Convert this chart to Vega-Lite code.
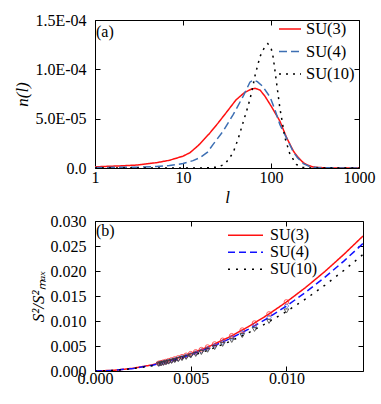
{
  "$schema": "https://vega.github.io/schema/vega-lite/v6.json",
  "background": "white",
  "padding": {"left": 13, "top": 11, "right": 5, "bottom": 5},
  "spacing": 6,
  "datasets": {
    "top": [
      {"l": 1, "n": 1.2e-6, "s": "SU(3)"}, {"l": 2, "n": 2.2e-6, "s": "SU(3)"}, {"l": 3, "n": 3.0e-6, "s": "SU(3)"},
      {"l": 5, "n": 5.4e-6, "s": "SU(3)"}, {"l": 7, "n": 7.8e-6, "s": "SU(3)"}, {"l": 10, "n": 1.2e-5, "s": "SU(3)"},
      {"l": 12, "n": 1.55e-5, "s": "SU(3)"}, {"l": 15, "n": 2.3e-5, "s": "SU(3)"}, {"l": 20, "n": 3.5e-5, "s": "SU(3)"},
      {"l": 25, "n": 4.55e-5, "s": "SU(3)"}, {"l": 30, "n": 5.45e-5, "s": "SU(3)"}, {"l": 40, "n": 6.9e-5, "s": "SU(3)"},
      {"l": 50, "n": 7.65e-5, "s": "SU(3)"}, {"l": 60, "n": 8.0e-5, "s": "SU(3)"}, {"l": 66, "n": 8.08e-5, "s": "SU(3)"},
      {"l": 75, "n": 7.9e-5, "s": "SU(3)"}, {"l": 85, "n": 7.3e-5, "s": "SU(3)"}, {"l": 100, "n": 6.3e-5, "s": "SU(3)"},
      {"l": 126, "n": 4.76e-5, "s": "SU(3)"}, {"l": 150, "n": 3.1e-5, "s": "SU(3)"}, {"l": 180, "n": 1.7e-5, "s": "SU(3)"},
      {"l": 200, "n": 1.15e-5, "s": "SU(3)"}, {"l": 233, "n": 5.4e-6, "s": "SU(3)"}, {"l": 260, "n": 3.0e-6, "s": "SU(3)"},
      {"l": 300, "n": 1.0e-6, "s": "SU(3)"}, {"l": 400, "n": 2e-7, "s": "SU(3)"}, {"l": 600, "n": 0, "s": "SU(3)"},
      {"l": 1000, "n": 0, "s": "SU(3)"},
      {"l": 1, "n": 5e-7, "s": "SU(4)"}, {"l": 3, "n": 8e-7, "s": "SU(4)"}, {"l": 5, "n": 1.5e-6, "s": "SU(4)"},
      {"l": 7, "n": 2.5e-6, "s": "SU(4)"}, {"l": 10, "n": 4.5e-6, "s": "SU(4)"}, {"l": 13, "n": 7.5e-6, "s": "SU(4)"},
      {"l": 15.6, "n": 1.05e-5, "s": "SU(4)"}, {"l": 19, "n": 1.6e-5, "s": "SU(4)"}, {"l": 22, "n": 2.4e-5, "s": "SU(4)"},
      {"l": 28.7, "n": 3.75e-5, "s": "SU(4)"}, {"l": 37.3, "n": 5.44e-5, "s": "SU(4)"}, {"l": 48.5, "n": 7.3e-5, "s": "SU(4)"},
      {"l": 57.6, "n": 8.7e-5, "s": "SU(4)"}, {"l": 63, "n": 8.9e-5, "s": "SU(4)"}, {"l": 70, "n": 8.75e-5, "s": "SU(4)"},
      {"l": 80, "n": 8.3e-5, "s": "SU(4)"}, {"l": 97.5, "n": 7.2e-5, "s": "SU(4)"}, {"l": 110, "n": 6.0e-5, "s": "SU(4)"},
      {"l": 126, "n": 4.4e-5, "s": "SU(4)"}, {"l": 151, "n": 3.0e-5, "s": "SU(4)"}, {"l": 180, "n": 1.6e-5, "s": "SU(4)"},
      {"l": 200, "n": 1.05e-5, "s": "SU(4)"}, {"l": 233, "n": 4.5e-6, "s": "SU(4)"}, {"l": 280, "n": 1.2e-6, "s": "SU(4)"},
      {"l": 350, "n": 2e-7, "s": "SU(4)"}, {"l": 1000, "n": 0, "s": "SU(4)"},
      {"l": 1, "n": 0, "s": "SU(10)"}, {"l": 15, "n": 0, "s": "SU(10)"}, {"l": 20, "n": 3e-7, "s": "SU(10)"},
      {"l": 25, "n": 1.0e-6, "s": "SU(10)"}, {"l": 30, "n": 4e-6, "s": "SU(10)"}, {"l": 34, "n": 1.05e-5, "s": "SU(10)"},
      {"l": 37.3, "n": 1.6e-5, "s": "SU(10)"}, {"l": 42.5, "n": 3.0e-5, "s": "SU(10)"}, {"l": 48.5, "n": 4.7e-5, "s": "SU(10)"},
      {"l": 55, "n": 6.3e-5, "s": "SU(10)"}, {"l": 60, "n": 7.6e-5, "s": "SU(10)"}, {"l": 66, "n": 9.4e-5, "s": "SU(10)"},
      {"l": 75, "n": 1.13e-4, "s": "SU(10)"}, {"l": 85, "n": 1.23e-4, "s": "SU(10)"}, {"l": 92, "n": 1.26e-4, "s": "SU(10)"},
      {"l": 100, "n": 1.22e-4, "s": "SU(10)"}, {"l": 106, "n": 1.12e-4, "s": "SU(10)"}, {"l": 115, "n": 8.8e-5, "s": "SU(10)"},
      {"l": 126, "n": 6.1e-5, "s": "SU(10)"}, {"l": 144, "n": 3.07e-5, "s": "SU(10)"}, {"l": 164, "n": 1.4e-5, "s": "SU(10)"},
      {"l": 195, "n": 3.5e-6, "s": "SU(10)"}, {"l": 230, "n": 5e-7, "s": "SU(10)"}, {"l": 300, "n": 0, "s": "SU(10)"},
      {"l": 1000, "n": 0, "s": "SU(10)"}
    ],
    "curves": [
      {"x": 0, "y": 0, "s": "SU(3)"}, {"x": 0.001, "y": 0.000138, "s": "SU(3)"}, {"x": 0.002, "y": 0.00055, "s": "SU(3)"},
      {"x": 0.003, "y": 0.00124, "s": "SU(3)"}, {"x": 0.004, "y": 0.00221, "s": "SU(3)"}, {"x": 0.005, "y": 0.00345, "s": "SU(3)"},
      {"x": 0.006, "y": 0.00497, "s": "SU(3)"}, {"x": 0.007, "y": 0.00676, "s": "SU(3)"}, {"x": 0.008, "y": 0.00883, "s": "SU(3)"},
      {"x": 0.009, "y": 0.01118, "s": "SU(3)"}, {"x": 0.010, "y": 0.0138, "s": "SU(3)"}, {"x": 0.011, "y": 0.0167, "s": "SU(3)"},
      {"x": 0.012, "y": 0.01987, "s": "SU(3)"}, {"x": 0.013, "y": 0.02332, "s": "SU(3)"}, {"x": 0.014, "y": 0.0270, "s": "SU(3)"},
      {"x": 0, "y": 0, "s": "SU(4)"}, {"x": 0.001, "y": 0.00013, "s": "SU(4)"}, {"x": 0.002, "y": 0.00052, "s": "SU(4)"},
      {"x": 0.003, "y": 0.00117, "s": "SU(4)"}, {"x": 0.004, "y": 0.00208, "s": "SU(4)"}, {"x": 0.005, "y": 0.00325, "s": "SU(4)"},
      {"x": 0.006, "y": 0.00468, "s": "SU(4)"}, {"x": 0.007, "y": 0.00637, "s": "SU(4)"}, {"x": 0.008, "y": 0.00832, "s": "SU(4)"},
      {"x": 0.009, "y": 0.01053, "s": "SU(4)"}, {"x": 0.010, "y": 0.0130, "s": "SU(4)"}, {"x": 0.011, "y": 0.01573, "s": "SU(4)"},
      {"x": 0.012, "y": 0.01872, "s": "SU(4)"}, {"x": 0.013, "y": 0.02197, "s": "SU(4)"}, {"x": 0.014, "y": 0.0255, "s": "SU(4)"},
      {"x": 0, "y": 0, "s": "SU(10)"}, {"x": 0.001, "y": 0.00012, "s": "SU(10)"}, {"x": 0.002, "y": 0.00048, "s": "SU(10)"},
      {"x": 0.003, "y": 0.00107, "s": "SU(10)"}, {"x": 0.004, "y": 0.0019, "s": "SU(10)"}, {"x": 0.005, "y": 0.00298, "s": "SU(10)"},
      {"x": 0.006, "y": 0.00428, "s": "SU(10)"}, {"x": 0.007, "y": 0.00583, "s": "SU(10)"}, {"x": 0.008, "y": 0.00762, "s": "SU(10)"},
      {"x": 0.009, "y": 0.00964, "s": "SU(10)"}, {"x": 0.010, "y": 0.0119, "s": "SU(10)"}, {"x": 0.011, "y": 0.0144, "s": "SU(10)"},
      {"x": 0.012, "y": 0.01714, "s": "SU(10)"}, {"x": 0.013, "y": 0.02011, "s": "SU(10)"}, {"x": 0.014, "y": 0.0233, "s": "SU(10)"}
    ],
    "pts": [
      {"x": 0.01, "y": 0.0138, "m": "SU(3)"}, {"x": 0.009091, "y": 0.0114, "m": "SU(3)"}, {"x": 0.008333, "y": 0.00958, "m": "SU(3)"},
      {"x": 0.007692, "y": 0.00817, "m": "SU(3)"}, {"x": 0.007143, "y": 0.00704, "m": "SU(3)"}, {"x": 0.006667, "y": 0.00613, "m": "SU(3)"},
      {"x": 0.00625, "y": 0.00539, "m": "SU(3)"}, {"x": 0.005882, "y": 0.00478, "m": "SU(3)"}, {"x": 0.005556, "y": 0.00426, "m": "SU(3)"},
      {"x": 0.005263, "y": 0.00382, "m": "SU(3)"}, {"x": 0.005, "y": 0.00345, "m": "SU(3)"}, {"x": 0.004762, "y": 0.00313, "m": "SU(3)"},
      {"x": 0.004545, "y": 0.00285, "m": "SU(3)"}, {"x": 0.004348, "y": 0.00261, "m": "SU(3)"}, {"x": 0.004167, "y": 0.0024, "m": "SU(3)"},
      {"x": 0.004, "y": 0.00221, "m": "SU(3)"}, {"x": 0.003846, "y": 0.00204, "m": "SU(3)"}, {"x": 0.003704, "y": 0.00189, "m": "SU(3)"},
      {"x": 0.003571, "y": 0.00176, "m": "SU(3)"}, {"x": 0.003448, "y": 0.00164, "m": "SU(3)"}, {"x": 0.003333, "y": 0.00153, "m": "SU(3)"},
      {"x": 0.01, "y": 0.0130, "m": "SU(4)"}, {"x": 0.009091, "y": 0.01074, "m": "SU(4)"}, {"x": 0.008333, "y": 0.00903, "m": "SU(4)"},
      {"x": 0.007692, "y": 0.00769, "m": "SU(4)"}, {"x": 0.007143, "y": 0.00663, "m": "SU(4)"}, {"x": 0.006667, "y": 0.00578, "m": "SU(4)"},
      {"x": 0.00625, "y": 0.00508, "m": "SU(4)"}, {"x": 0.005882, "y": 0.0045, "m": "SU(4)"}, {"x": 0.005556, "y": 0.00401, "m": "SU(4)"},
      {"x": 0.005263, "y": 0.0036, "m": "SU(4)"}, {"x": 0.005, "y": 0.00325, "m": "SU(4)"}, {"x": 0.004762, "y": 0.00295, "m": "SU(4)"},
      {"x": 0.004545, "y": 0.00269, "m": "SU(4)"}, {"x": 0.004348, "y": 0.00246, "m": "SU(4)"}, {"x": 0.004167, "y": 0.00226, "m": "SU(4)"},
      {"x": 0.004, "y": 0.00208, "m": "SU(4)"}, {"x": 0.003846, "y": 0.00192, "m": "SU(4)"}, {"x": 0.003704, "y": 0.00178, "m": "SU(4)"},
      {"x": 0.003571, "y": 0.00166, "m": "SU(4)"}, {"x": 0.003448, "y": 0.00155, "m": "SU(4)"}, {"x": 0.003333, "y": 0.00144, "m": "SU(4)"},
      {"x": 0.01, "y": 0.0120, "m": "SU(10)"}, {"x": 0.009091, "y": 0.00992, "m": "SU(10)"}, {"x": 0.008333, "y": 0.00833, "m": "SU(10)"},
      {"x": 0.007692, "y": 0.0071, "m": "SU(10)"}, {"x": 0.007143, "y": 0.00612, "m": "SU(10)"}, {"x": 0.006667, "y": 0.00533, "m": "SU(10)"},
      {"x": 0.00625, "y": 0.00469, "m": "SU(10)"}, {"x": 0.005882, "y": 0.00415, "m": "SU(10)"}, {"x": 0.005556, "y": 0.0037, "m": "SU(10)"},
      {"x": 0.005263, "y": 0.00332, "m": "SU(10)"}, {"x": 0.005, "y": 0.003, "m": "SU(10)"}, {"x": 0.004762, "y": 0.00272, "m": "SU(10)"},
      {"x": 0.004545, "y": 0.00248, "m": "SU(10)"}, {"x": 0.004348, "y": 0.00227, "m": "SU(10)"}, {"x": 0.004167, "y": 0.00208, "m": "SU(10)"},
      {"x": 0.004, "y": 0.00192, "m": "SU(10)"}, {"x": 0.003846, "y": 0.00178, "m": "SU(10)"}, {"x": 0.003704, "y": 0.00165, "m": "SU(10)"},
      {"x": 0.003571, "y": 0.00153, "m": "SU(10)"}, {"x": 0.003448, "y": 0.00143, "m": "SU(10)"}, {"x": 0.003333, "y": 0.00133, "m": "SU(10)"}
    ],
    "labA": [{"l": 1, "n": 1.5e-4, "t": "(a)"}],
    "labB": [{"x": 0, "y": 0.03, "t": "(b)"}]
  },
  "vconcat": [
    {
      "width": 264,
      "height": 148,
      "resolve": {"axis": {"x": "independent", "y": "independent"}},
      "layer": [
        {
          "data": {"name": "top"},
          "mark": {"type": "line", "strokeWidth": 1.5, "clip": true},
          "encoding": {
            "x": {"field": "l", "type": "quantitative", "scale": {"type": "log", "domain": [1, 1000], "nice": false},
                  "axis": {"values": [1, 10, 100, 1000], "format": "d", "labelFlush": false, "title": "l", "titleFontStyle": "italic", "labelPadding": 6, "titlePadding": 4}},
            "y": {"field": "n", "type": "quantitative", "scale": {"domain": [0, 0.00015], "nice": false},
                  "axis": {"values": [0, 0.00005, 0.0001, 0.00015], "labelPadding": 14, "titlePadding": 3, "title": "n(l)", "titleFontStyle": "italic",
                           "labelExpr": "datum.value == 0 ? '0.0' : datum.value < 0.00006 ? '5.0E-05' : datum.value < 0.00011 ? '1.0E-04' : '1.5E-04'"}},
            "color": {"field": "s", "type": "nominal",
                      "scale": {"domain": ["SU(3)", "SU(4)", "SU(10)"], "range": ["#ff1010", "#3d6fb3", "#000000"]},
                      "legend": {"orient": "none", "legendX": 183, "legendY": -3, "title": null, "symbolType": "stroke", "symbolSize": 484, "symbolStrokeWidth": 1.5, "labelFont": "Liberation Serif", "labelFontSize": 16.5, "labelOffset": 4, "rowPadding": 1.5, "labelColor": "black"}},
            "strokeDash": {"field": "s", "type": "nominal",
                           "scale": {"domain": ["SU(3)", "SU(4)", "SU(10)"], "range": [[1, 0], [8, 4], [2, 5]]},
                           "legend": {"orient": "none", "legendX": 183, "legendY": -3, "title": null, "symbolType": "stroke", "symbolSize": 484, "symbolStrokeWidth": 1.5, "labelFont": "Liberation Serif", "labelFontSize": 16.5, "labelOffset": 4, "rowPadding": 1.5, "labelColor": "black"}}
          }
        },
        {
          "data": {"name": "labA"},
          "mark": {"type": "text", "align": "left", "baseline": "top", "dx": 1, "dy": 4, "font": "Liberation Serif", "fontSize": 16, "color": "black"},
          "encoding": {
            "x": {"field": "l", "type": "quantitative", "axis": {"orient": "top", "values": [1, 10, 100, 1000], "labels": false, "title": null}},
            "y": {"field": "n", "type": "quantitative", "axis": {"orient": "right", "values": [0, 0.00005, 0.0001, 0.00015], "labels": false, "title": null}},
            "text": {"field": "t"}
          }
        }
      ]
    },
    {
      "width": 268,
      "height": 150,
      "resolve": {"axis": {"x": "independent", "y": "independent"}},
      "layer": [
        {
          "data": {"name": "curves"},
          "mark": {"type": "line", "strokeWidth": 1.5, "clip": true},
          "encoding": {
            "x": {"field": "x", "type": "quantitative", "scale": {"domain": [0, 0.014], "nice": false},
                  "axis": {"values": [0, 0.005, 0.01], "format": ".3f", "labelFlush": false, "title": null, "labelPadding": 4}},
            "y": {"field": "y", "type": "quantitative", "scale": {"domain": [0, 0.03], "nice": false},
                  "axis": {"values": [0, 0.005, 0.01, 0.015, 0.02, 0.025, 0.03], "format": ".3f", "labelPadding": 14, "titlePadding": 3, "title": "S²/S²ₘₐₓ", "titleFontStyle": "italic"}},
            "color": {"field": "s", "type": "nominal",
                      "scale": {"domain": ["SU(3)", "SU(4)", "SU(10)"], "range": ["#ff1010", "#1010ff", "#000000"]},
                      "legend": {"orient": "none", "legendX": 132, "legendY": 6, "title": null, "symbolType": "stroke", "symbolSize": 1225, "symbolStrokeWidth": 1.5, "clipHeight": 16.5, "labelFont": "Liberation Serif", "labelFontSize": 16, "labelOffset": 6, "rowPadding": 0, "labelColor": "black"}},
            "strokeDash": {"field": "s", "type": "nominal",
                           "scale": {"domain": ["SU(3)", "SU(4)", "SU(10)"], "range": [[1, 0], [7, 4], [2, 6]]},
                           "legend": {"orient": "none", "legendX": 132, "legendY": 6, "title": null, "symbolType": "stroke", "symbolSize": 1225, "symbolStrokeWidth": 1.5, "clipHeight": 16.5, "labelFont": "Liberation Serif", "labelFontSize": 16, "labelOffset": 6, "rowPadding": 0, "labelColor": "black"}}
          }
        },
        {
          "data": {"name": "pts"},
          "transform": [{"filter": "datum.m == 'SU(3)'"}],
          "mark": {"type": "point", "shape": "circle", "filled": false, "size": 22, "strokeWidth": 1, "color": "#ff3030", "opacity": 0.8},
          "encoding": {
            "x": {"field": "x", "type": "quantitative", "axis": null},
            "y": {"field": "y", "type": "quantitative", "axis": null}
          }
        },
        {
          "data": {"name": "pts"},
          "transform": [{"filter": "datum.m == 'SU(4)'"}],
          "mark": {"type": "point", "shape": "diamond", "filled": false, "size": 22, "strokeWidth": 1, "color": "#4a6ee0", "opacity": 0.8},
          "encoding": {
            "x": {"field": "x", "type": "quantitative", "axis": null},
            "y": {"field": "y", "type": "quantitative", "axis": null}
          }
        },
        {
          "data": {"name": "pts"},
          "transform": [{"filter": "datum.m == 'SU(10)'"}],
          "mark": {"type": "point", "shape": "triangle-down", "filled": false, "size": 22, "strokeWidth": 1, "color": "#333333", "opacity": 0.8},
          "encoding": {
            "x": {"field": "x", "type": "quantitative", "axis": null},
            "y": {"field": "y", "type": "quantitative", "axis": null}
          }
        },
        {
          "data": {"name": "labB"},
          "mark": {"type": "text", "align": "left", "baseline": "top", "dx": 1, "dy": 2, "font": "Liberation Serif", "fontSize": 16, "color": "black"},
          "encoding": {
            "x": {"field": "x", "type": "quantitative", "axis": {"orient": "top", "values": [0, 0.005, 0.01], "labels": false, "title": null}},
            "y": {"field": "y", "type": "quantitative", "axis": {"orient": "right", "values": [0, 0.005, 0.01, 0.015, 0.02, 0.025, 0.03], "labels": false, "title": null}},
            "text": {"field": "t"}
          }
        }
      ]
    }
  ],
  "resolve": {
    "scale": {"color": "independent", "strokeDash": "independent"},
    "legend": {"color": "independent", "strokeDash": "independent"}
  },
  "config": {
    "font": "Liberation Serif",
    "view": {"stroke": "black", "strokeWidth": 1},
    "axis": {"grid": false, "domain": false, "tickColor": "black", "tickSize": -5, "tickWidth": 1,
             "labelFont": "Liberation Serif", "labelFontSize": 16, "labelColor": "black",
             "titleFont": "Liberation Serif", "titleFontSize": 17, "titleColor": "black", "titleFontWeight": "normal"}
  }
}
